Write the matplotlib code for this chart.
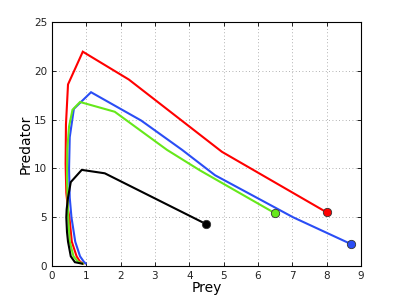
import matplotlib
matplotlib.use("Agg")
import matplotlib.pyplot as plt

# trajectories (prey, predator)
red_prey = [8.0, 4.95, 2.24, 0.90, 0.47, 0.41, 0.40, 0.42, 0.47, 0.51, 0.58, 0.72, 0.82, 0.92]
red_pred = [5.5, 11.7, 19.1, 21.95, 18.6, 14.5, 10.5, 7.5, 5.8, 5.0, 2.5, 1.0, 0.45, 0.25]

blue_prey = [8.71, 7.02, 4.75, 3.79, 2.6, 1.14, 0.64, 0.52, 0.50, 0.52, 0.57, 0.68, 0.82, 0.93, 0.98]
blue_pred = [2.25, 5.0, 9.3, 11.9, 14.9, 17.8, 16.1, 13.2, 10.0, 7.0, 5.0, 2.5, 1.0, 0.45, 0.28]

green_prey = [6.5, 4.31, 3.35, 1.83, 0.82, 0.6, 0.50, 0.45, 0.44, 0.46, 0.475, 0.52, 0.63, 0.76, 0.9]
green_pred = [5.4, 9.8, 11.9, 15.8, 16.8, 16.0, 14.3, 12.0, 9.0, 6.5, 5.0, 2.5, 1.0, 0.45, 0.25]

black_prey = [4.49, 1.54, 0.87, 0.55, 0.47, 0.43, 0.42, 0.44, 0.47, 0.55, 0.67, 0.88]
black_pred = [4.3, 9.5, 9.85, 8.6, 7.0, 5.8, 5.0, 3.5, 2.5, 1.0, 0.4, 0.25]

series = [
    (red_prey, red_pred, "#ff0000"),
    (blue_prey, blue_pred, "#2a4df5"),
    (green_prey, green_pred, "#66e81a"),
    (black_prey, black_pred, "#000000"),
]

fig = plt.figure(figsize=(3.99, 3.0), dpi=100)
ax = fig.add_axes([0.130, 0.113, 0.775, 0.814])

for x, y, c in series:
    ax.plot(x, y, color=c, lw=1.5, solid_joinstyle="miter")
    ax.plot(x[0], y[0], "o", color=c, mec="#333333", mew=0.6, ms=6)

ax.set_xlim(0, 9)
ax.set_ylim(0, 25)
ax.set_xticks(range(0, 10))
ax.set_yticks(range(0, 26, 5))
ax.grid(True, ls=(0, (1, 3)), color="#999999", lw=0.6)
ax.tick_params(direction="in", labelsize=7.5, labelcolor="#222222", length=3, width=0.6, top=True, right=True)
for s in ax.spines.values():
    s.set_linewidth(0.8)
ax.set_xlabel("Prey", fontsize=10, labelpad=0)
ax.set_ylabel("Predator", fontsize=10, labelpad=1)

fig.savefig("out.png", dpi=100)
